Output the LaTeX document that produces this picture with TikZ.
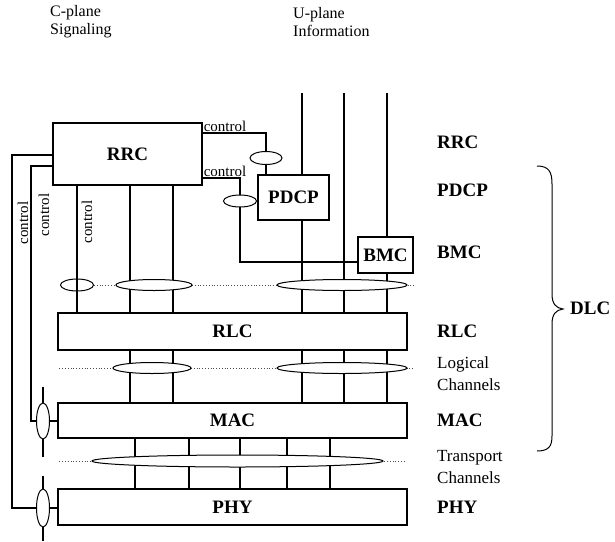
\documentclass[tikz,border=0pt]{standalone}
\usepackage{fontspec}
\setmainfont{Liberation Serif}
\usetikzlibrary{shapes.geometric,positioning,backgrounds,calc}

\begin{document}
\begin{tikzpicture}[
  x=1pt, y=-1pt, color=black,
  layer/.style={draw, line width=1.2pt, fill=white, inner sep=0pt,
                font=\fontsize{19}{22}\selectfont\bfseries},
  ell/.style={ellipse, draw, fill=white, inner sep=0pt, line width=1pt},
  link/.style={line width=1.1pt},
  chan/.style={dotted, line width=0.8pt, color=black!70},
  tag/.style={anchor=west, inner sep=0pt, font=\fontsize{19}{22}\selectfont\bfseries},
  note/.style={anchor=west, align=left, inner sep=0pt, font=\fontsize{17}{22}\selectfont},
  head/.style={anchor=west, align=left, inner sep=0pt, font=\fontsize{16}{18}\selectfont},
  ctl/.style={inner sep=1pt, font=\fontsize{15}{17}\selectfont},
]
\useasboundingbox (0,0) rectangle (615,541);

% ---- column and row positions ----
\coordinate (cA) at (77,0);  \coordinate (cB) at (130,0); \coordinate (cC) at (173,0);
\coordinate (uA) at (302,0); \coordinate (uB) at (344,0); \coordinate (uC) at (387,0);
\coordinate (tA) at (135,0); \coordinate (tB) at (189,0); \coordinate (tC) at (240,0);
\coordinate (tD) at (287,0); \coordinate (tE) at (330,0);
\coordinate (uTop) at (0,93);
\coordinate (lx1) at (12,0); \coordinate (lx2) at (31,0);
\coordinate (ky1) at (0,155); \coordinate (ky2) at (0,166);
\coordinate (k1) at (266,133); \coordinate (k2) at (240,178); \coordinate (k3) at (240,262);

% ---- protocol layers ----
\node[layer, minimum width=149, minimum height=62] (RRC) at (127.5,154) {RRC};
\node[layer, minimum width=71, minimum height=45] (PDCP) at (293.5,197.5) {PDCP};
\node[layer, minimum width=55, minimum height=36] (BMC) at (385.5,255) {BMC};
\node[layer, minimum width=349, minimum height=37] (RLC) at (232.5,331.5) {RLC};
\node[layer, minimum width=349, minimum height=35] (MAC) at (232.5,420.5) {MAC};
\node[layer, minimum width=349, minimum height=36] (PHY) at (232.5,507) {PHY};

% ---- service access points (ellipses) ----
\node[ell, fill=none, minimum width=33, minimum height=12] (eA) at (77,285) {};
\node[ell, minimum width=76, minimum height=11] (eB) at (154,285) {};
\node[ell, minimum width=130, minimum height=11] (eC) at (342,285) {};
\node[ell, minimum width=78, minimum height=11] (eD) at (152,368) {};
\node[ell, minimum width=130, minimum height=11] (eE) at (342,368) {};
\node[ell, minimum width=291, minimum height=12] (eF) at (237.5,461) {};
\node[ell, minimum width=32, minimum height=13] (eK1) at (266,158) {};
\node[ell, minimum width=33, minimum height=12] (eK2) at (240,201) {};
\node[ell, minimum width=13, minimum height=36] (eM) at (43,421) {};
\node[ell, minimum width=13, minimum height=38] (eP) at (43,508) {};

\begin{scope}[on background layer]
% ---- channel rows (dotted) ----
\draw[chan] (eA.east) -- ($(RLC.east |- eA)+(6,0)$);
\draw[chan] ($(RLC.west |- eD)+(2,0)$) -- ($(RLC.east |- eD)+(6,0)$);
\draw[chan] ($(MAC.west |- eF)+(2,0)$) -- ($(MAC.east |- eF)+(-3,0)$);

% ---- C-plane lines ----
\draw[link] (cA |- RRC.south) -- (cA |- RLC.north);
\draw[link] (cB |- RRC.south) -- (cB |- RLC.north);
\draw[link] (cC |- RRC.south) -- (cC |- RLC.north);
\draw[link] (cB |- RLC.south) -- (cB |- MAC.north);
\draw[link] (cC |- RLC.south) -- (cC |- MAC.north);

% ---- U-plane lines ----
\draw[link] (uA |- uTop) -- (uA |- PDCP.north);
\draw[link] (uA |- PDCP.south) -- (uA |- RLC.north);
\draw[link] (uB |- uTop) -- (uB |- RLC.north);
\draw[link] (uC |- uTop) -- (uC |- BMC.north);
\draw[link] (uC |- BMC.south) -- (uC |- RLC.north);
\draw[link] (uA |- RLC.south) -- (uA |- MAC.north);
\draw[link] (uB |- RLC.south) -- (uB |- MAC.north);
\draw[link] (uC |- RLC.south) -- (uC |- MAC.north);

% ---- transport channels ----
\draw[link] (tA |- MAC.south) -- (tA |- PHY.north);
\draw[link] (tB |- MAC.south) -- (tB |- PHY.north);
\draw[link] (tC |- MAC.south) -- (tC |- PHY.north);
\draw[link] (tD |- MAC.south) -- (tD |- PHY.north);
\draw[link] (tE |- MAC.south) -- (tE |- PHY.north);

% ---- control paths from RRC ----
\draw[link] (RRC.east |- k1) -- (k1) -- (k1 |- PDCP.north);
\draw[link] (RRC.east |- k2) -- (k2) -- (k3) -- (k3 -| BMC.west);
\draw[link] (RRC.west |- ky1) -- (lx1 |- ky1) -- (lx1 |- eP) -- (PHY.west |- eP);
\draw[link] (RRC.west |- ky2) -- (lx2 |- ky2) -- (lx2 |- eM) -- (MAC.west |- eM);
\draw[link] ($(eM.north)+(0,-16)$) -- ($(eM.south)+(0,17)$);
\draw[link] ($(eP.north)+(0,-13)$) -- ($(eP.south)+(0,13)$);
\end{scope}

% ---- control labels ----
\node[ctl, anchor=south west] (lk1) at (RRC.east |- k1) {control};
\node[ctl, anchor=south west] (lk2) at (RRC.east |- k2) {control};
\node[ctl, rotate=90] (lv1) at (23,223) {control};
\node[ctl, rotate=90] (lv2) at (44,215) {control};
\node[ctl, rotate=90] (lv3) at (87,222) {control};

% ---- plane headings ----
\node[head] (cplane) at (50,22) {C-plane\\Signaling};
\node[head] (uplane) at (293,22) {U-plane\\Information};

% ---- layer names on the right ----
\node[tag] (nRRC) at (437,142) {RRC};
\node[tag] (nPDCP) at (437,190) {PDCP};
\node[tag] (nBMC) at (437,252) {BMC};
\node[tag] (nRLC) at (437,331) {RLC};
\node[note] (nLog) at (437,374) {Logical\\Channels};
\node[tag] (nMAC) at (437,420) {MAC};
\node[note] (nTra) at (437,467) {Transport\\Channels};
\node[tag] (nPHY) at (437,507) {PHY};

% ---- DLC brace ----
\draw[line width=1pt] (537,166) .. controls (549,166) and (552,172) .. (552,184)
  -- (552,294) .. controls (552,304) and (556,308) .. (563,309)
  .. controls (556,310) and (552,314) .. (552,324)
  -- (552,436) .. controls (552,446) and (549,451) .. (537,451);
\node[tag] (nDLC) at (570,308) {DLC};
\end{tikzpicture}
\end{document}
